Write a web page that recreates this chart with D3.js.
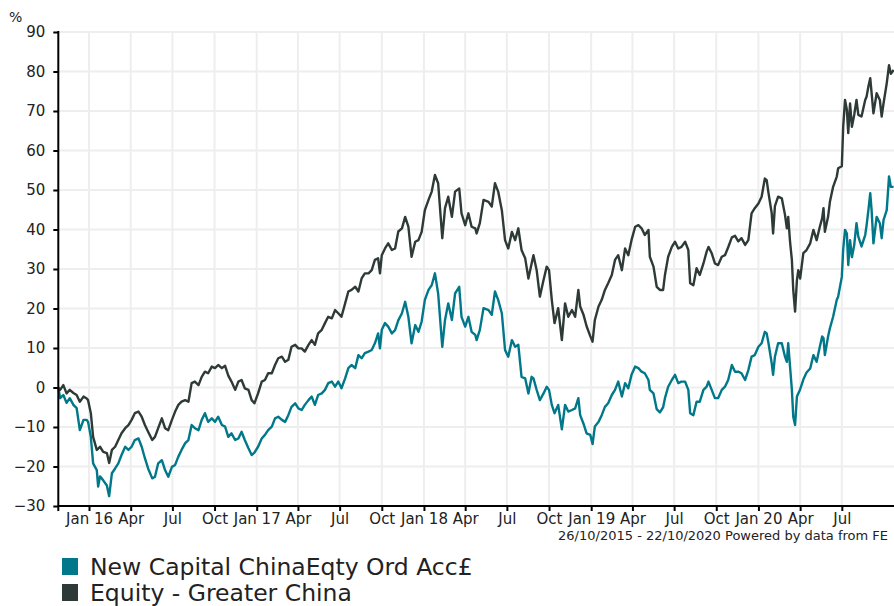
<!DOCTYPE html>
<html>
<head>
<meta charset="utf-8">
<script src="https://cdn.jsdelivr.net/npm/d3@7"></script>
<style>
  html, body { margin: 0; padding: 0; background: #fff; }
  svg { display: block; font-family: "DejaVu Sans", Verdana, sans-serif; }
</style>
</head>
<body>
<div id="chart"></div>
<script>
// weekly-ish readings, % growth since 26/10/2015
const dates = [
  "2015-10-26","2015-10-30","2015-11-06","2015-11-13","2015-11-20","2015-11-28","2015-12-05","2015-12-12","2015-12-20","2015-12-27","2015-12-30",
  "2016-01-05","2016-01-10","2016-01-18","2016-01-21","2016-01-25","2016-02-01","2016-02-09","2016-02-14","2016-02-20","2016-02-27",
  "2016-03-05","2016-03-12","2016-03-20","2016-03-27","2016-04-03","2016-04-10","2016-04-18","2016-04-25","2016-05-02","2016-05-09",
  "2016-05-18","2016-05-24","2016-05-31","2016-06-08","2016-06-15","2016-06-22","2016-06-30","2016-07-07","2016-07-14","2016-07-21",
  "2016-07-29","2016-08-05","2016-08-12","2016-08-19","2016-08-27","2016-09-03","2016-09-10","2016-09-17","2016-09-25","2016-10-02",
  "2016-10-09","2016-10-17","2016-10-24","2016-10-31","2016-11-07","2016-11-15","2016-11-22","2016-11-29","2016-12-06","2016-12-14",
  "2016-12-21","2016-12-27","2017-01-04","2017-01-12","2017-01-19","2017-01-26","2017-02-03","2017-02-10","2017-02-17","2017-02-25",
  "2017-03-04","2017-03-11","2017-03-18","2017-03-26","2017-04-02","2017-04-09","2017-04-16","2017-04-24","2017-05-01","2017-05-08",
  "2017-05-15","2017-05-23","2017-05-30","2017-06-06","2017-06-14","2017-06-21","2017-06-28","2017-07-05","2017-07-13","2017-07-20",
  "2017-07-27","2017-08-04","2017-08-11","2017-08-18","2017-08-25","2017-09-02","2017-09-09","2017-09-16","2017-09-23","2017-09-27",
  "2017-10-01","2017-10-08","2017-10-15","2017-10-23","2017-10-30","2017-11-06","2017-11-14","2017-11-21","2017-11-28","2017-12-05",
  "2017-12-13","2017-12-20","2017-12-27","2018-01-03","2018-01-11","2018-01-18","2018-01-25","2018-02-01","2018-02-10","2018-02-16",
  "2018-02-23","2018-03-03","2018-03-10","2018-03-19","2018-03-24","2018-04-01","2018-04-08","2018-04-15","2018-04-23","2018-04-26",
  "2018-05-03","2018-05-11","2018-05-22","2018-05-29","2018-06-05","2018-06-12","2018-06-20","2018-06-27","2018-07-04","2018-07-12",
  "2018-07-19","2018-07-26","2018-08-02","2018-08-10","2018-08-17","2018-08-24","2018-08-28","2018-09-04","2018-09-11","2018-09-19",
  "2018-09-26","2018-10-01","2018-10-07","2018-10-13","2018-10-21","2018-10-29","2018-11-05","2018-11-12","2018-11-20","2018-11-27",
  "2018-12-04","2018-12-08","2018-12-15","2018-12-22","2018-12-30","2019-01-04","2019-01-09","2019-01-17","2019-01-24","2019-01-31",
  "2019-02-07","2019-02-15","2019-02-22","2019-03-01","2019-03-09","2019-03-16","2019-03-23","2019-03-30","2019-04-07","2019-04-14",
  "2019-04-21","2019-04-28","2019-05-06","2019-05-09","2019-05-17","2019-05-24","2019-05-31","2019-06-07","2019-06-11","2019-06-18",
  "2019-06-26","2019-07-03","2019-07-10","2019-07-17","2019-07-25","2019-08-01","2019-08-05","2019-08-12","2019-08-19","2019-08-26",
  "2019-09-03","2019-09-10","2019-09-14","2019-09-21","2019-09-28","2019-10-05","2019-10-13","2019-10-20","2019-10-27","2019-11-04",
  "2019-11-11","2019-11-18","2019-11-25","2019-12-03","2019-12-10","2019-12-17","2019-12-24","2020-01-01","2020-01-08","2020-01-15",
  "2020-01-19","2020-01-23","2020-01-30","2020-02-02","2020-02-06","2020-02-13","2020-02-21","2020-02-28","2020-03-03","2020-03-06",
  "2020-03-10","2020-03-14","2020-03-17","2020-03-21","2020-03-25","2020-03-28","2020-04-01","2020-04-08","2020-04-15","2020-04-23",
  "2020-04-30","2020-05-07","2020-05-14","2020-05-19","2020-05-22","2020-05-25","2020-06-01","2020-06-05","2020-06-12","2020-06-20",
  "2020-06-23","2020-07-01","2020-07-04","2020-07-08","2020-07-12","2020-07-15","2020-07-19","2020-07-23","2020-07-28","2020-08-02",
  "2020-08-06","2020-08-13","2020-08-21","2020-08-24","2020-08-28","2020-09-01","2020-09-04","2020-09-08","2020-09-15","2020-09-22",
  "2020-09-26","2020-09-30","2020-10-07","2020-10-12","2020-10-16","2020-10-22"
];

// New Capital ChinaEqty Ord Acc£
const fundValues = [
  0,-2.7,-1.9,-3.9,-2.7,-4.4,-5.2,-10.8,-8.2,-8.2,-8.7,
  -12.5,-19.2,-20.9,-25.1,-22.5,-23.5,-24.8,-27.5,-21.7,-20.5,
  -19.2,-17.1,-15,-15.8,-15,-13.3,-12.9,-15,-17.9,-20.5,
  -23,-22.6,-19.2,-18.4,-20.9,-22.6,-20.1,-19.6,-17.5,-15.8,
  -14.1,-13.3,-9.5,-10.3,-10.8,-8.2,-6.5,-8.7,-7.8,-8.7,
  -7.4,-9.5,-9.9,-12.5,-11.6,-13.3,-12.9,-11.2,-13.3,-15.4,
  -17.1,-16.5,-15,-12.9,-12,-10.8,-9.9,-7.8,-7.4,-8.2,
  -8.7,-7,-4.9,-4,-5.3,-5.7,-4.4,-3.2,-2.3,-4.4,
  -1.9,-1.5,-0.6,1.1,1.5,0.2,1.5,-0.2,2.3,4.9,
  5.7,4.9,8.2,7.4,8.7,9.1,9.5,11.2,13.7,9.9,
  14.6,16.3,15.4,13.7,14.5,17,18.8,21.7,17.9,11.2,
  15.8,14.1,16.7,22.2,24.7,25.9,28.9,23.8,10.3,17.1,
  21.3,17.1,23.8,25.5,17.9,15.4,17.9,14.1,13.3,12,
  14.6,20.1,19.6,18.4,24.3,22.2,18.8,9.5,7.8,12,
  10.3,10.8,2.7,2.3,-1.5,2.7,2.3,-0.6,-3.2,-1.5,
  0.2,-0.6,-4.4,-6.5,-4.4,-10.6,-4.4,-6.1,-5.7,-5.3,
  -2.7,-7,-9.1,-11.6,-12,-14.3,-9.9,-8.7,-7,-4.9,
  -4,-1.9,-0.6,1.5,-2.3,1.1,-0.2,3.2,5.3,4.9,
  4,3.6,1.9,-0.6,-1.5,-5.5,-6.3,-5,-2.7,0.2,
  1.9,3.2,1.1,1.5,1.5,-0.6,-6.5,-7,-3.6,-3.6,
  -0.6,0.2,1.5,-0.6,-2.7,-2.7,-0.6,0.2,1.9,5.7,
  4,4,3.6,1.9,4.4,7.8,8.2,10.3,11.2,14.1,
  13.7,11.2,6.1,3.2,7.8,11.2,11.2,7.8,6.5,11.2,
  5.3,-0.6,-7.4,-9.5,-2.3,-1.5,-0.5,2,3.8,4.8,
  8.2,6.5,10.3,12.9,12.5,8.2,12.9,15,17.9,22.2,
  23,28,35,39.9,39,31,37.3,33,36,41.6,
  38.2,35.7,38.6,41,44.9,49.2,44.9,36.5,43.2,41.6,
  37.8,42.4,44.9,53.4,50.8,50.8
];

// Equity - Greater China
const sectorValues = [
  0,-0.6,0.6,-1.5,-0.6,-1.4,-1.9,-3.6,-2.3,-2.8,-3.2,
  -6.5,-12.5,-15.8,-15.5,-15,-16.3,-16.6,-19.1,-15.8,-15,
  -13.3,-11.6,-10.3,-9.5,-8.2,-6.5,-6.1,-7.4,-9.5,-11.2,
  -13.3,-12.5,-10.3,-7.8,-10.3,-10.8,-8.2,-6.1,-4.4,-3.6,
  -3.2,-3.6,1.1,1.5,0.6,2.7,4,3.6,5.3,4.9,
  5.7,4.9,5.5,3,1.5,-0.6,1.5,1.9,-0.2,-0.6,
  -3.2,-4,-1.5,1.5,1.9,3.6,3.6,5.7,7.4,7.8,
  6.5,7,10.3,10.8,9.9,9.9,9.1,10.8,12,10.8,
  13.7,14.6,16.3,17.9,17.5,19.6,18.8,17.9,21.3,24.3,
  24.7,25.5,24.3,27.6,28.9,28.9,29.7,32.3,32.7,28.9,
  33.5,35.2,36.5,34.8,35.2,39.5,40.3,43.2,40.7,33.1,
  36.9,37.3,39.4,44.9,47.5,49.6,53.8,51.7,37.8,45.4,
  48.3,43.2,49.6,50.4,44.1,41.1,44.1,40.7,40.3,39,
  41.6,47.5,47,45.8,51.7,49.6,44.9,37.3,35.2,39.4,
  37.3,40.3,34.8,32.7,27.6,31.4,33.5,29.7,23,27.2,
  30.6,29.7,22.2,16.3,20.1,12,21.3,17.9,19.6,17.9,
  24.7,20.5,18.5,15.5,13,11.6,17.1,20.5,22.2,24.7,
  26.4,28.5,32.3,33.5,29.7,35.2,33.5,37.3,40.7,41.1,
  40.3,38.6,39.9,33.1,30.6,25.5,24.7,24.7,28.5,33.1,
  35.6,36.9,35.2,35.6,36.9,34.8,26.4,25.9,30.2,28.5,
  31.4,34.4,35.6,34,31.4,31,33.1,33.5,35.5,38,
  38.4,37,37.8,36.1,37.3,44.1,45.4,46.6,48.3,52.9,
  52.5,49.2,44.1,39,45.9,48.3,47.9,43.7,40.3,43.2,
  36.9,32.3,24.7,19.2,27.2,29.7,27.6,34,34.8,36.5,
  39.9,37.3,40.7,42.8,45.4,39.4,43.2,47,50.8,53.4,
  55.5,56,66,72.8,70.3,64.4,71.9,66,69,72.8,
  69,68.6,72.8,73.6,76.2,78.3,74.5,69.4,74.5,72.8,
  68.6,71.9,77,81.6,79.4,80.4
];

const seriesNames = ["New Capital ChinaEqty Ord Acc£", "Equity - Greater China"];
const seriesColors = ["#00788a", "#2e3a37"];
const yTicks = [-30, -20, -10, 0, 10, 20, 30, 40, 50, 60, 70, 80, 90];
const periodLabel = "26/10/2015 - 22/10/2020 Powered by data from FE";

const width = 894, height = 606;
const plot = { left: 58.3, right: 893.6, top: 32, bottom: 506 };

const parseDate = d3.timeParse("%Y-%m-%d");
const dateList = dates.map(parseDate);

const svg = d3.select("#chart").append("svg")
    .attr("width", width)
    .attr("height", height);

const x = d3.scaleTime()
    .domain([dateList[0], dateList[dateList.length - 1]])
    .range([plot.left, plot.right]);

const y = d3.scaleLinear()
    .domain([-30, 90])
    .range([plot.bottom, plot.top]);

// quarterly ticks, none squeezed against the right edge
const monthTicks = x.ticks(d3.timeMonth.every(3)).filter(d => x(d) < plot.right - 20);

// grid
const grid = svg.append("g").attr("stroke", "#eeeeee").attr("stroke-width", 2);
grid.selectAll("line.h").data(yTicks.filter(d => d > -30)).join("line")
    .attr("class", "h")
    .attr("x1", plot.left).attr("x2", width)
    .attr("y1", d => y(d)).attr("y2", d => y(d));
grid.selectAll("line.v").data(monthTicks).join("line")
    .attr("class", "v")
    .attr("x1", d => x(d)).attr("x2", d => x(d))
    .attr("y1", plot.top).attr("y2", plot.bottom);

// series
const series = [
    { name: seriesNames[0], color: seriesColors[0], values: fundValues },
    { name: seriesNames[1], color: seriesColors[1], values: sectorValues }
];

const line = d3.line()
    .x((d, i) => x(dateList[i]))
    .y(d => y(d));

svg.append("g").selectAll("path").data(series).join("path")
    .attr("fill", "none")
    .attr("stroke", d => d.color)
    .attr("stroke-width", 2.4)
    .attr("stroke-linejoin", "round")
    .attr("d", d => line(d.values));

// axes
const yAxis = svg.append("g")
    .attr("transform", `translate(${plot.left},0)`)
    .call(d3.axisLeft(y).tickValues(yTicks).tickSize(5).tickPadding(8).tickFormat(d3.format("d")));

const fmtMonth = d3.timeFormat("%b"), fmtJan = d3.timeFormat("%b %y");
const xAxis = svg.append("g")
    .attr("transform", `translate(0,${plot.bottom})`)
    .call(d3.axisBottom(x).tickValues(monthTicks).tickSize(5).tickPadding(3)
        .tickFormat(d => d.getMonth() === 0 ? fmtJan(d) : fmtMonth(d)));

[yAxis, xAxis].forEach(ax => {
    ax.select(".domain").remove();
    ax.selectAll(".tick line").attr("stroke", "#000").attr("stroke-width", 2);
    ax.selectAll(".tick text").attr("fill", "#222").style("font-size", "15px")
        .style("font-family", "'DejaVu Sans', Verdana, sans-serif");
});
xAxis.selectAll(".tick text").attr("dy", "10px");

svg.append("line")
    .attr("x1", plot.left).attr("x2", plot.left)
    .attr("y1", plot.top - 1).attr("y2", plot.bottom + 5)
    .attr("stroke", "#000").attr("stroke-width", 2);
svg.append("line")
    .attr("x1", plot.left).attr("x2", width)
    .attr("y1", plot.bottom).attr("y2", plot.bottom)
    .attr("stroke", "#000").attr("stroke-width", 2);

svg.append("text")
    .attr("x", 9).attr("y", 22)
    .attr("fill", "#222").style("font-size", "14px")
    .text("%");

svg.append("text")
    .attr("x", 888).attr("y", 540)
    .attr("text-anchor", "end")
    .attr("fill", "#222").style("font-size", "13px")
    .text(periodLabel);

// legend
const legend = svg.append("g").selectAll("g").data(series).join("g")
    .attr("transform", (d, i) => `translate(62,${558 + i * 26})`);
legend.append("rect")
    .attr("width", 16).attr("height", 17)
    .attr("fill", d => d.color);
legend.append("text")
    .attr("x", 28).attr("y", 17)
    .attr("fill", "#222").style("font-size", "23.5px")
    .text(d => d.name);
</script>
</body>
</html>
